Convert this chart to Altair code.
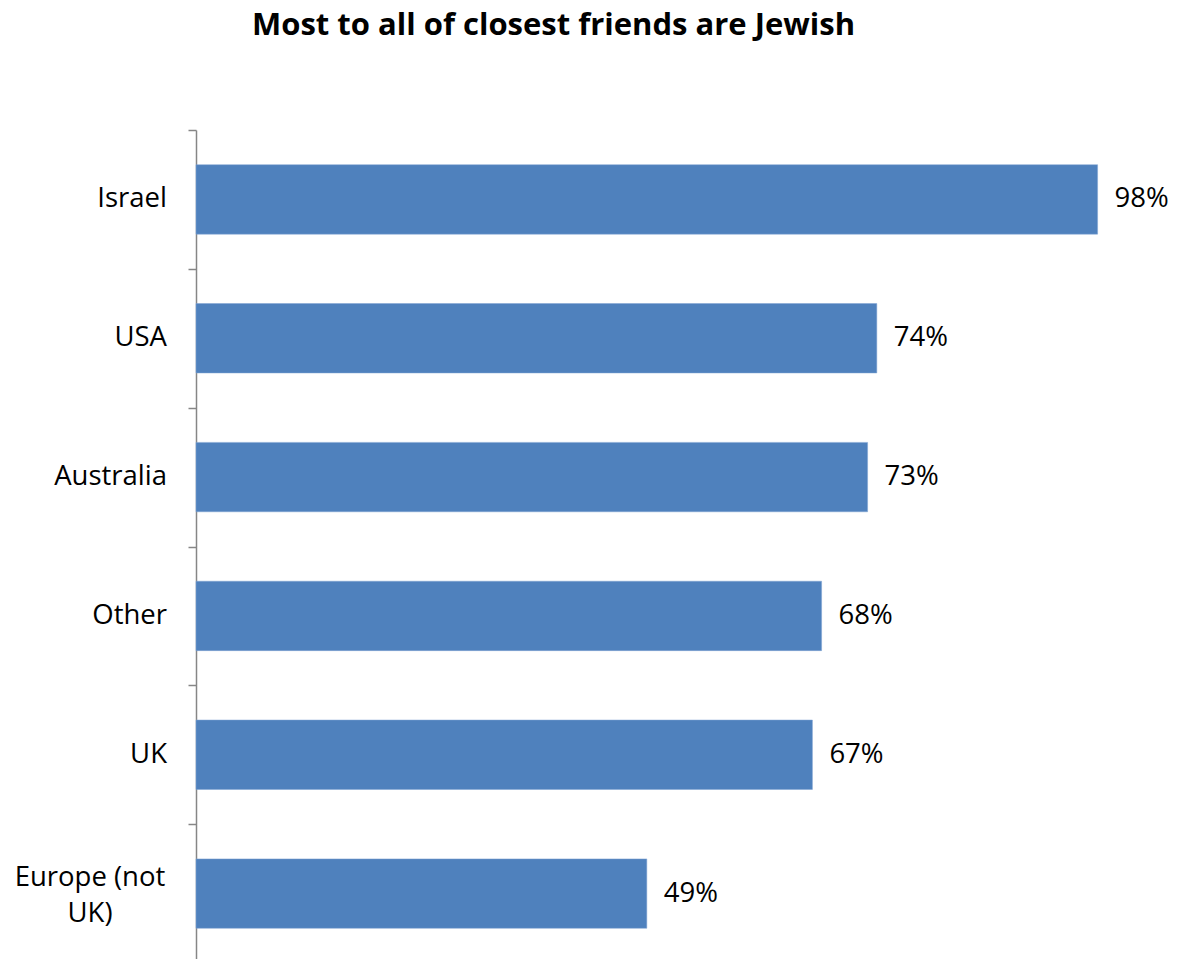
import altair as alt
import pandas as pd

categories = ["Israel", "USA", "Australia", "Other", "UK", "Europe (not UK)"]
values = [98, 74, 73, 68, 67, 49]
label_lines = ["Israel", "USA", "Australia", "Other", "UK", "Europe (not\nUK)"]

df = pd.DataFrame({"cat": categories, "val": values, "lab": label_lines,
                   "pct": [f"{v}%" for v in values],
                   "multi": ["\n" in s for s in label_lines]})

FONT = "Open Sans"
FS = 27.5

y = alt.Y("cat:N", sort=categories, title=None,
          scale=alt.Scale(paddingInner=0, paddingOuter=0),
          axis=alt.Axis(labels=False, domainColor="#868686", domainWidth=1.5,
                        tickColor="#868686", tickSize=8, tickWidth=1.5,
                        tickBand="extent", grid=False))
x = alt.X("val:Q", scale=alt.Scale(domain=[0, 100]), axis=None)

base = alt.Chart(df)

bars = base.mark_bar(color="#4F81BD", stroke="#7FA3D3", strokeWidth=0.5,
                     height={"band": 0.5}).encode(x=x, y=y)

vals = base.mark_text(align="left", baseline="middle", dx=17, font=FONT,
                      fontSize=FS, color="#000000").encode(x=x, y=y, text="pct:N")

single = base.transform_filter("!datum.multi").mark_text(
    align="right", baseline="middle", font=FONT, fontSize=FS, color="#000000"
).encode(x=alt.value(-29), y=y, text="lab:N")

multi = base.transform_filter("datum.multi").mark_text(
    align="center", baseline="middle", font=FONT, fontSize=FS, color="#000000",
    lineBreak="\n", lineHeight=36, dy=-16
).encode(x=alt.value(-106), y=y, text="lab:N")

chart = alt.layer(bars, vals, single, multi).properties(
    width=920, height=833,
    title=alt.TitleParams("Most to all of closest friends are Jewish", anchor="start",
                          frame="group", dx=56, offset=87, font=FONT, fontSize=31,
                          fontWeight="bold", color="#000000"),
    autosize=alt.AutoSizeParams(type="none"),
    padding={"left": 188, "top": 122, "right": 62, "bottom": 0},
).configure_view(stroke=None)

chart.save("out.html", embed_options={"renderer": "svg", "actions": False})
